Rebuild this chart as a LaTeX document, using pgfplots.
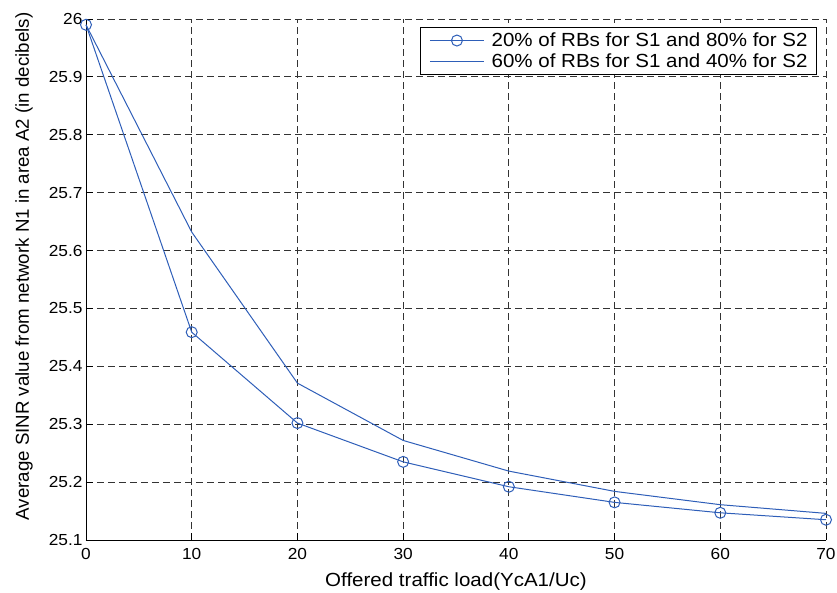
\documentclass[border=0pt]{standalone}
\usepackage{fontspec}
\setmainfont{Liberation Sans}[FakeStretch=1.08]
\newfontfamily\ylabfont{Liberation Sans}
\usepackage{pgfplots}
\pgfplotsset{compat=1.18}
\definecolor{mblue}{RGB}{46,94,184}
\begin{document}
\begin{tikzpicture}
\begin{axis}[
  at={(0pt,0pt)}, anchor=south west,
  scale only axis,
  width=740pt, height=521pt,
  xmin=0, xmax=70, ymin=25.1, ymax=26,
  xtick={0,10,...,70},
  ytick={25.1,25.2,25.3,25.4,25.5,25.6,25.7,25.8,25.9,26},
  yticklabels={25.1,25.2,25.3,25.4,25.5,25.6,25.7,25.8,25.9,26},
  axis x line*=bottom, axis y line*=left,
  x axis line style={-, line width=0.8pt},
  y axis line style={-, line width=0.8pt},
  tick align=inside,
  major tick length=7pt,
  tick style={black, line width=0.8pt},
  /pgf/number format/assume math mode=true,
  tick label style={font=\fontsize{16}{19}\selectfont},
  xticklabel style={yshift=-4.7pt},
  grid=major,
  major grid style={black!80, line width=0.8pt, dash pattern=on 7pt off 4pt},
  xlabel={Offered traffic load(YcA1/Uc)},
  ylabel={\ylabfont Average SINR value from network N1 in area A2 (in decibels)},
  xlabel style={font=\fontsize{19}{23}\selectfont, at={(axis description cs:0.5,0)}, anchor=base, yshift=-46.7pt},
  ylabel style={font=\fontsize{18.7}{22}\selectfont, at={([xshift=-62pt,yshift=13pt]axis description cs:0,0.5)}, anchor=center},
  clip=false,
  legend style={
    at={(axis description cs:0.98743,0.98407)}, anchor=north east,
    draw=black, line width=0.8pt, fill=white,
    font=\fontsize{19}{23}\selectfont,
    inner xsep=5pt, inner ysep=3.2pt, row sep=1.3pt,
    nodes={inner xsep=3.7pt},
  },
  legend cell align=left,
  legend image code/.code={\path[draw=none,fill=none] (-2pt,0pt) -- (61pt,0pt);
    \draw[mark repeat=2,mark phase=2,#1] plot coordinates {(3pt,0pt) (30pt,0pt) (57pt,0pt)};},
]
\addplot[mblue, line width=1pt, mark=o, mark size=5.5pt, mark options={line width=1pt}] coordinates {
 (0,25.990) (10,25.459) (20,25.302) (30,25.235) (40,25.192) (50,25.165) (60,25.147) (70,25.135)};
\addlegendentry{20\% of RBs for S1 and 80\% for S2}
\addplot[mblue, line width=1pt] coordinates {
 (0,25.990) (10,25.632) (20,25.371) (30,25.272) (40,25.219) (50,25.184) (60,25.161) (70,25.146)};
\addlegendentry{60\% of RBs for S1 and 40\% for S2}
\end{axis}
\pgfresetboundingbox
\path[use as bounding box] (-86pt,-52pt) rectangle (751pt,540pt);
\end{tikzpicture}
\end{document}
